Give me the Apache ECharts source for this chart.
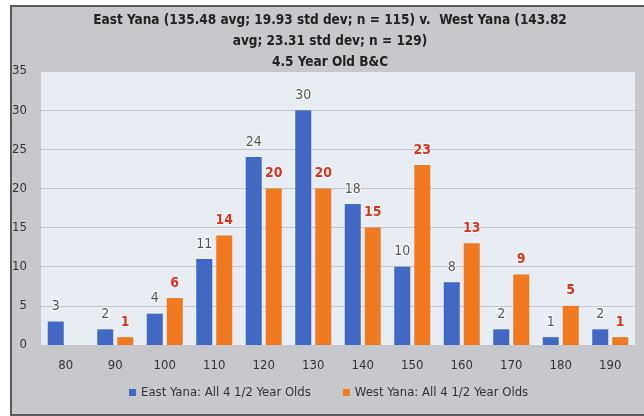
<!DOCTYPE html>
<html>
<head>
<meta charset="utf-8">
<script src="https://cdn.jsdelivr.net/npm/echarts@6/dist/echarts.min.js"></script>
<style>
  html, body { margin: 0; padding: 0; background: #ffffff; overflow: hidden; }
  #frame { position: absolute; left: 10px; top: 5px; width: 640px; height: 407px;
           background: #c6c8cb; border: 2px solid #5a5a5a; border-right: none; }
  #chart { position: absolute; left: 0; top: 0; width: 644px; height: 416px; }
</style>
</head>
<body>
<div id="frame"></div>
<div id="chart"></div>
<script>
const categories = ['80', '90', '100', '110', '120', '130', '140', '150', '160', '170', '180', '190'];
const eastValues = [3, 2, 4, 11, 24, 30, 18, 10, 8, 2, 1, 2];
const westValues = ['-', 1, 6, 14, 20, 20, 15, 23, 13, 9, 5, 1];
const eastName = 'East Yana: All 4 1/2 Year Olds';
const westName = 'West Yana: All 4 1/2 Year Olds';
const titleText = 'East Yana (135.48 avg; 19.93 std dev; n = 115) v.  West Yana (143.82\navg; 23.31 std dev; n = 129)\n4.5 Year Old B&C';

const font = '"Liberation Sans Narrow", "DejaVu Sans Condensed", sans-serif';

let myChart = echarts.init(document.getElementById('chart'), null, { renderer: 'canvas' });

option = {
    backgroundColor: 'transparent',
    title: {
        text: titleText,
        left: 325,
        textAlign: 'center',
        top: 5,
        textStyle: {
            fontFamily: font,
            fontSize: 13.5,
            fontWeight: 'bold',
            color: '#222',
            lineHeight: 21
        }
    },
    legend: {
        top: 381,
        left: 124,
        itemWidth: 7,
        itemHeight: 7,
        itemGap: 32,
        icon: 'rect',
        textStyle: { fontFamily: font, fontSize: 13, color: '#333' }
    },
    grid: {
        left: 41,
        right: 9,
        top: 71,
        bottom: 71,
        show: true,
        backgroundColor: '#e8edf4',
        borderWidth: 0
    },
    xAxis: {
        type: 'category',
        data: categories,
        axisLine: { show: false },
        axisTick: { show: false },
        axisLabel: { fontFamily: font, fontSize: 13, color: '#333', margin: 14 }
    },
    yAxis: {
        type: 'value',
        min: 0,
        max: 35,
        interval: 5,
        axisLabel: { fontFamily: font, fontSize: 13, color: '#333', margin: 14 },
        splitLine: { lineStyle: { color: '#c4c6c9', width: 1 } }
    },
    series: [
        {
            name: eastName,
            type: 'bar',
            data: eastValues,
            barWidth: 16,
            barGap: '25%',
            itemStyle: { color: '#4169c4' },
            label: {
                show: true,
                position: 'top',
                distance: 8,
                fontFamily: font,
                fontSize: 14,
                color: '#555',
                textBorderColor: 'rgba(255,255,255,0.8)',
                textBorderWidth: 2
            }
        },
        {
            name: westName,
            type: 'bar',
            data: westValues,
            barWidth: 16,
            itemStyle: { color: '#f07a22' },
            label: {
                show: true,
                position: 'top',
                distance: 8,
                fontFamily: font,
                fontSize: 14,
                fontWeight: 'bold',
                color: '#e0321c',
                textBorderColor: 'rgba(255,255,255,0.8)',
                textBorderWidth: 2
            }
        }
    ]
};

myChart.setOption(option);
</script>
</body>
</html>
